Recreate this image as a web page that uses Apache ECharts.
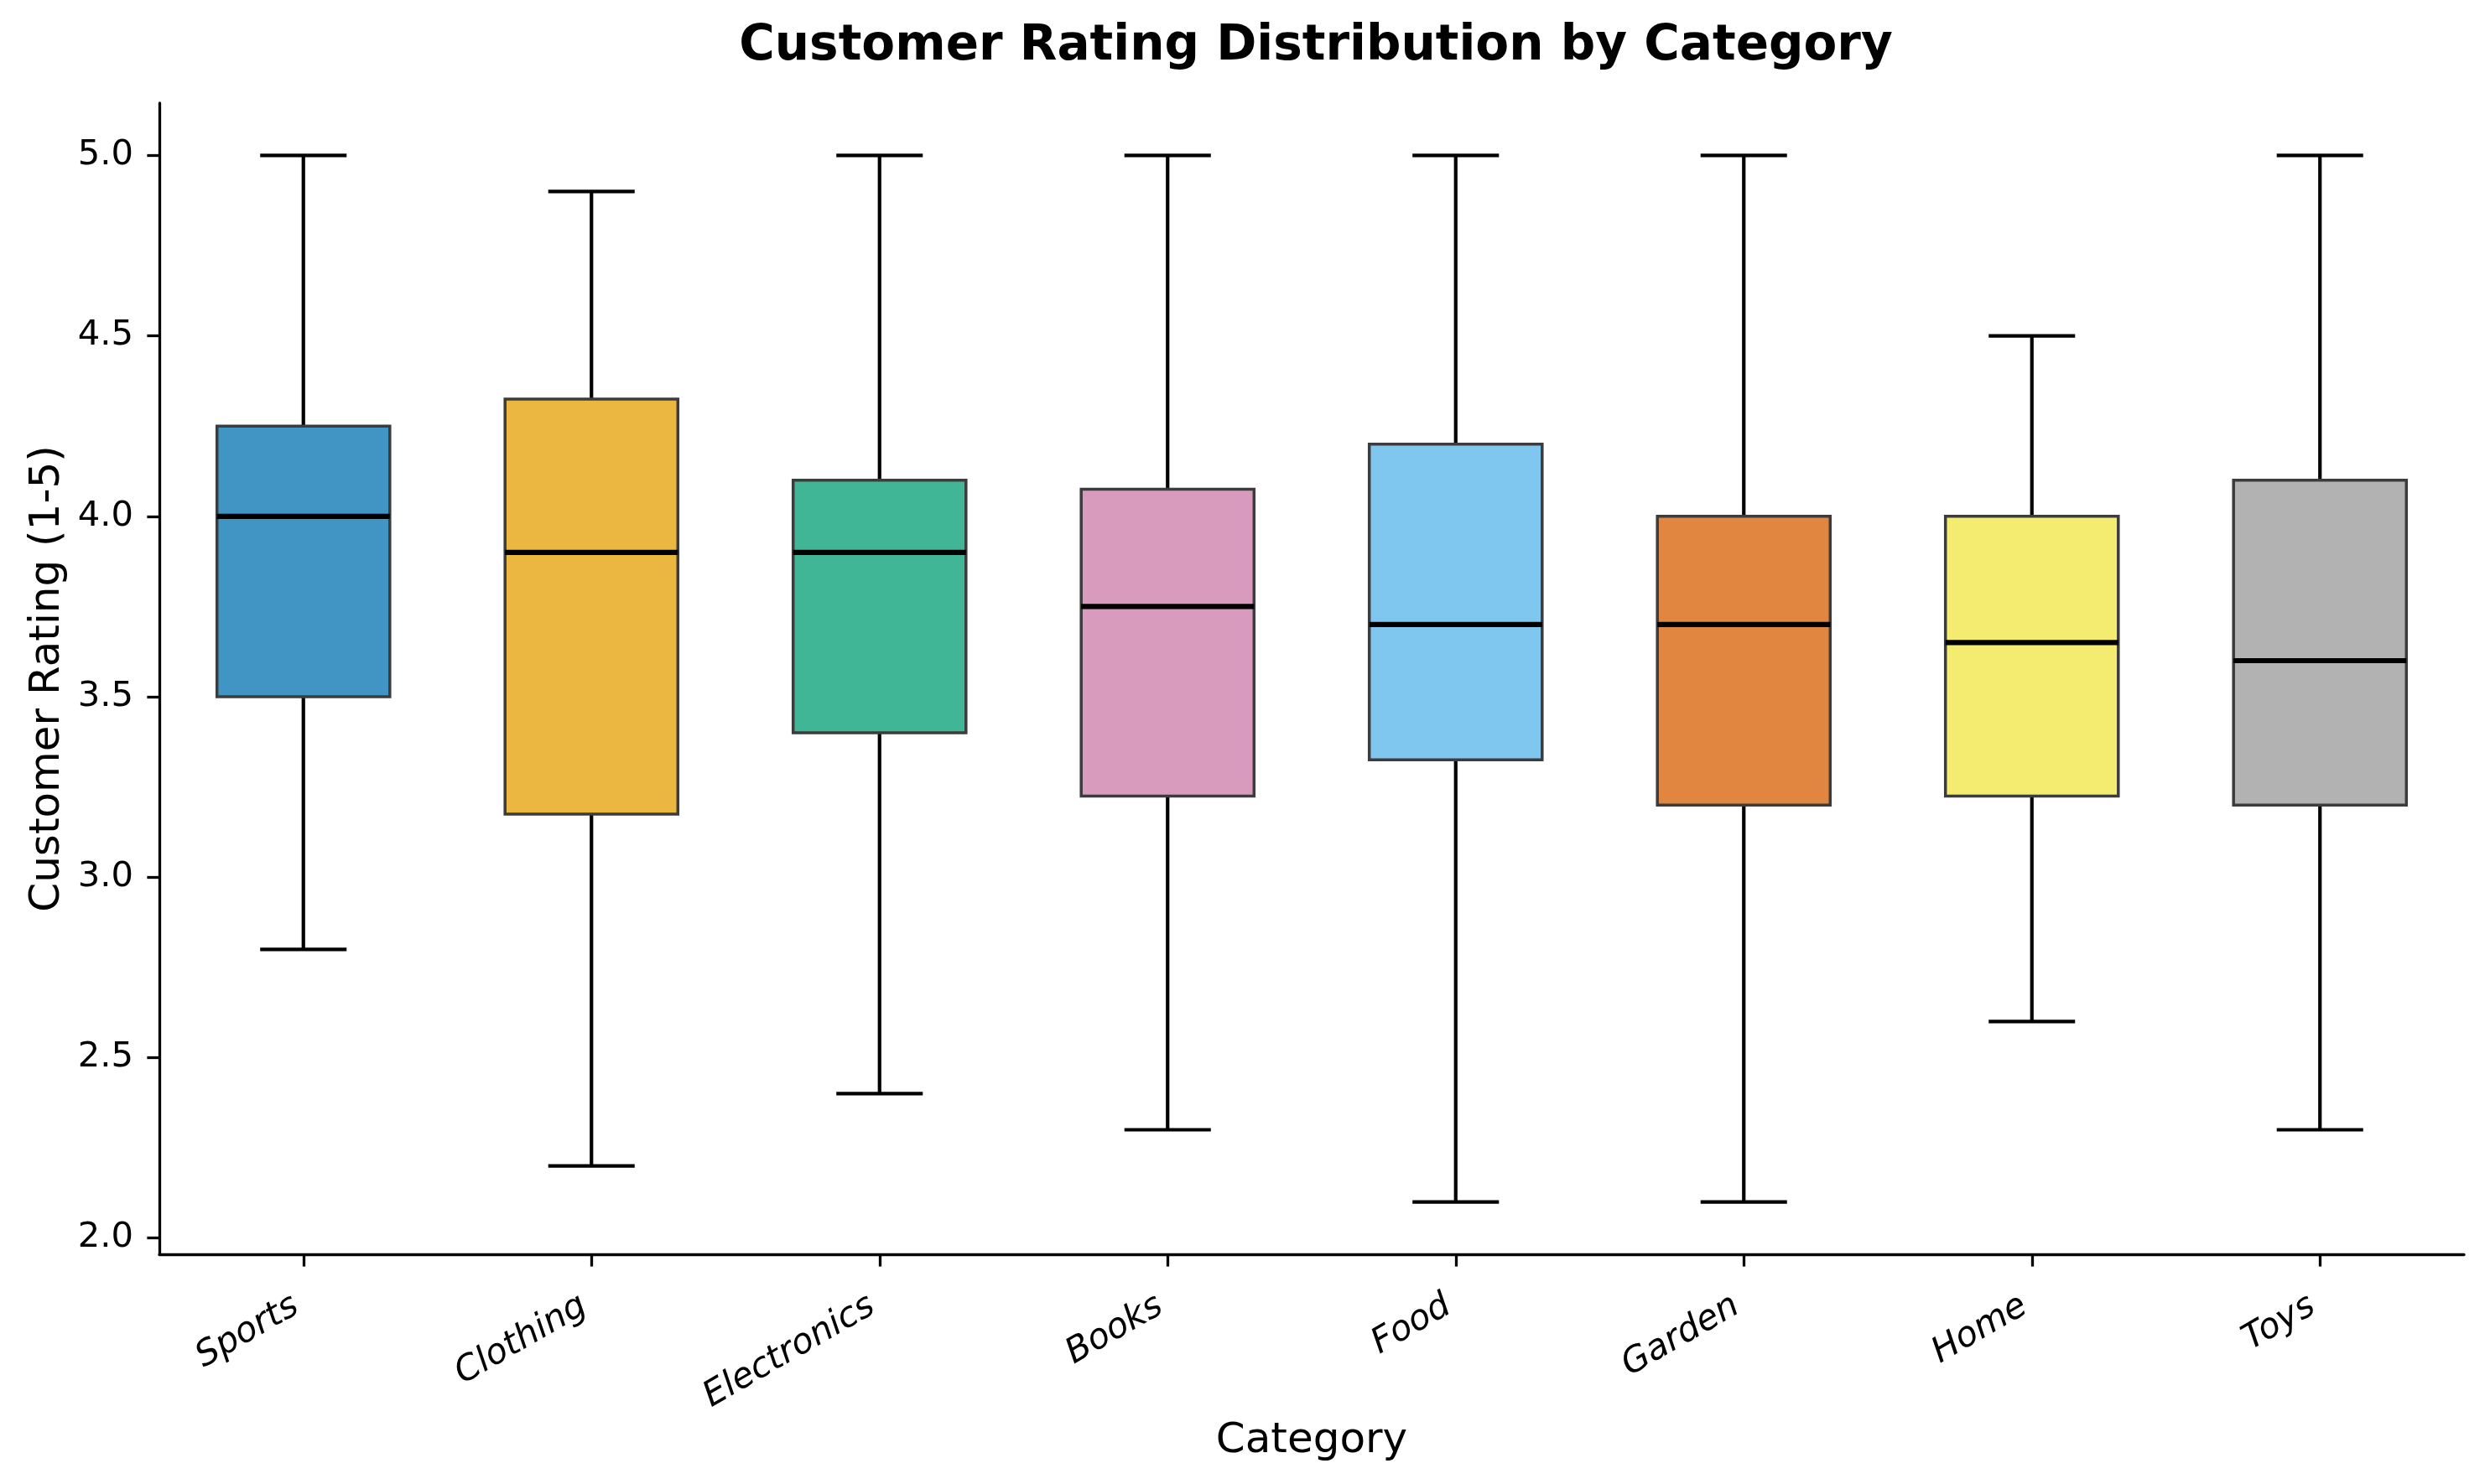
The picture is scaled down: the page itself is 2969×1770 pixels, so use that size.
<!DOCTYPE html>
<html>
<head>
<meta charset="utf-8">
<script src="https://cdn.jsdelivr.net/npm/echarts@6/dist/echarts.min.js"></script>
<style>
html,body{margin:0;padding:0;background:#fff;}
#main{width:2969px;height:1770px;}
</style>
</head>
<body>
<div id="main"></div>
<script>
const categories = ['Sports', 'Clothing', 'Electronics', 'Books', 'Food', 'Garden', 'Home', 'Toys'];
const whiskerLow = [2.8, 2.2, 2.4, 2.3, 2.1, 2.1, 2.6, 2.3];
const q1 = [3.5, 3.175, 3.4, 3.225, 3.325, 3.2, 3.225, 3.2];
const median = [4.0, 3.9, 3.9, 3.75, 3.7, 3.7, 3.65, 3.6];
const q3 = [4.25, 4.325, 4.1, 4.075, 4.2, 4.0, 4.0, 4.1];
const whiskerHigh = [5.0, 4.9, 5.0, 5.0, 5.0, 5.0, 4.5, 5.0];
const yTicks = [2.0, 2.5, 3.0, 3.5, 4.0, 4.5, 5.0];
const boxColors = ['#4095C5', '#ECB740', '#40B696', '#D99BBD', '#80C7EF', '#E08640', '#F4EB71', '#B2B2B2'];

const FONT = 'DejaVu Sans';
const chart = echarts.init(document.getElementById('main'), null, {renderer: 'canvas'});

const boxData = categories.map((c, i) => [i, whiskerLow[i], q1[i], median[i], q3[i], whiskerHigh[i]]);

function renderItem(params, api) {
  const idx = api.value(0);
  const band = api.size([1, 0])[0];
  const halfBox = band * 0.3;
  const halfCap = band * 0.15;
  const pLow = api.coord([idx, api.value(1)]);
  const pQ1 = api.coord([idx, api.value(2)]);
  const pMed = api.coord([idx, api.value(3)]);
  const pQ3 = api.coord([idx, api.value(4)]);
  const pHigh = api.coord([idx, api.value(5)]);
  const x = pQ1[0];
  const lineStyle = {stroke: '#000', lineWidth: 4.2};
  return {
    type: 'group',
    children: [
      {type: 'line', shape: {x1: x, y1: pQ1[1], x2: x, y2: pLow[1]}, style: lineStyle},
      {type: 'line', shape: {x1: x, y1: pQ3[1], x2: x, y2: pHigh[1]}, style: lineStyle},
      {type: 'line', shape: {x1: x - halfCap, y1: pLow[1], x2: x + halfCap, y2: pLow[1]}, style: lineStyle},
      {type: 'line', shape: {x1: x - halfCap, y1: pHigh[1], x2: x + halfCap, y2: pHigh[1]}, style: lineStyle},
      {type: 'rect', shape: {x: x - halfBox, y: pQ3[1], width: halfBox * 2, height: pQ1[1] - pQ3[1]},
        style: {fill: boxColors[idx], stroke: '#3c3c3c', lineWidth: 3.5}},
      {type: 'line', shape: {x1: x - halfBox, y1: pMed[1], x2: x + halfBox, y2: pMed[1]},
        style: {stroke: '#000', lineWidth: 6.2}}
    ]
  };
}

const option = {
  backgroundColor: '#ffffff',
  animation: false,
  title: {
    text: 'Customer Rating Distribution by Category',
    left: 1564,
    textAlign: 'center',
    top: 22,
    textStyle: {fontFamily: FONT, fontWeight: 'bold', fontSize: 58, color: '#000'}
  },
  grid: {left: 190, right: 31, top: 123, bottom: 274, containLabel: false},
  xAxis: {
    type: 'category',
    data: categories,
    boundaryGap: true,
    name: 'Category',
    nameLocation: 'middle',
    nameGap: 186,
    nameTextStyle: {fontFamily: FONT, fontSize: 50, color: '#000'},
    axisLine: {show: true, lineStyle: {color: '#000', width: 3.3}},
    axisTick: {show: true, alignWithLabel: true, length: 14.6, lineStyle: {color: '#000', width: 3.3}},
    axisLabel: {rotate: 30, margin: 54, padding: [0, 10, 0, 0], fontFamily: FONT, fontStyle: 'italic', fontSize: 41.7, color: '#000', interval: 0},
    splitLine: {show: false}
  },
  yAxis: {
    type: 'value',
    min: 1.955,
    max: 5.145,
    name: 'Customer Rating (1-5)',
    nameLocation: 'middle',
    nameGap: 108,
    nameTextStyle: {fontFamily: FONT, fontSize: 50, color: '#000'},
    axisLine: {show: true, lineStyle: {color: '#000', width: 3.3}},
    axisTick: {show: true, length: 14.6, lineStyle: {color: '#000', width: 3.3}, customValues: yTicks},
    axisLabel: {customValues: yTicks, margin: 31, fontFamily: FONT, fontSize: 41.7, color: '#000',
      formatter: v => Number(v).toFixed(1)},
    splitLine: {show: false}
  },
  series: [{
    type: 'custom',
    renderItem: renderItem,
    encode: {x: 0, y: [1, 2, 3, 4, 5]},
    data: boxData,
    clip: false
  }]
};
chart.setOption(option);
</script>
</body>
</html>
